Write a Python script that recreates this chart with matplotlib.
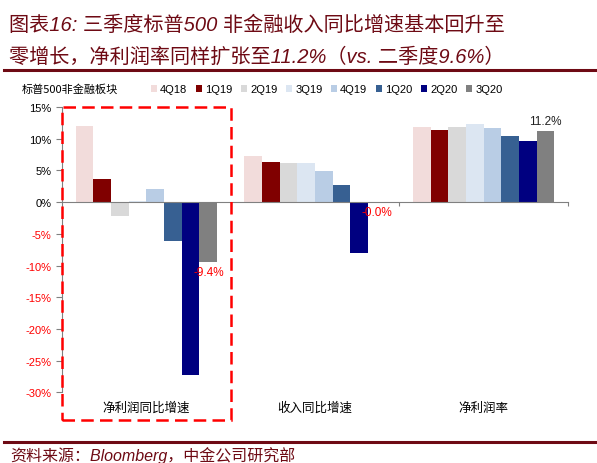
import matplotlib.pyplot as plt
from matplotlib.patches import Rectangle
from matplotlib.transforms import ScaledTranslation
import numpy as np

plt.rcParams['font.family'] = ['Liberation Sans', 'Noto Sans CJK SC', 'DejaVu Sans']

categories = ['净利润同比增速', '收入同比增速', '净利润率']
quarters = ['4Q18', '1Q19', '2Q19', '3Q19', '4Q19', '1Q20', '2Q20', '3Q20']
# values per quarter: [net profit growth, revenue growth, net margin]
q4_18 = [12.0, 7.3, 11.9]
q1_19 = [3.6, 6.4, 11.4]
q2_19 = [-2.2, 6.2, 11.9]
q3_19 = [0.2, 6.1, 12.3]
q4_19 = [2.0, 4.9, 11.7]
q1_20 = [-6.1, 2.7, 10.5]
q2_20 = [-27.2, -8.0, 9.7]
q3_20 = [-9.4, -0.02, 11.2]
series = [q4_18, q1_19, q2_19, q3_19, q4_19, q1_20, q2_20, q3_20]
colors = ['#F2DCDB', '#800000', '#D9D9D9', '#DCE6F2', '#B9CDE5', '#376092', '#000080', '#808080']

dark_red = '#6E0A14'

fig = plt.figure(figsize=(5.97, 4.64), dpi=100)
ax = fig.add_axes([0.1039, 0.1524, 0.8475, 0.6148])

x = np.arange(len(categories))
w = 0.105
for i, (vals, c) in enumerate(zip(series, colors)):
    off = (i - 3.5) * w
    ax.bar(x + off, vals, width=w, color=c, label=quarters[i], zorder=2)

# labels on the 3Q20 bars
off_last = 3.5 * w
lab_colors = ['red', 'red', '#222222']
for j, v in enumerate(q3_20):
    if v < 0:
        ax.annotate(f'{v:.1f}%', (x[j] + off_last, v), xytext=(0, -3), textcoords='offset points',
                    ha='center', va='top', fontsize=8.5, color=lab_colors[j])
    else:
        ax.annotate(f'{v:.1f}%', (x[j] + off_last, v), xytext=(0, 3), textcoords='offset points',
                    ha='center', va='bottom', fontsize=8.5, color=lab_colors[j])

ax.set_xlim(-0.5, 2.5)
ax.set_ylim(-30, 15)
ax.set_yticks(np.arange(-30, 16, 5))
ax.set_yticklabels([f'{t}%' for t in range(-30, 16, 5)], fontsize=8)
for t in ax.get_yticklabels():
    if t.get_text().startswith('-'):
        t.set_color('red')
ax.tick_params(axis='y', length=4, width=0.8, color='#808080', pad=3.5)

for s in ['top', 'right']:
    ax.spines[s].set_visible(False)
ax.spines['left'].set_color('#808080')
ax.spines['bottom'].set_position(('data', 0))
ax.spines['bottom'].set_color('#808080')
ax.set_xticks([0.5, 1.5, 2.5])
ax.set_xticklabels([])
ax.tick_params(axis='x', length=3, width=0.8, color='#808080')

# category labels under the plot
shift = ax.transData + ScaledTranslation(0, -6 / 72, fig.dpi_scale_trans)
for j, cat in enumerate(categories):
    ax.text(x[j], -30, cat, transform=shift, ha='center', va='top', fontsize=9,
            family=['Noto Sans CJK SC'])

# red dashed highlight box around first group
rect = Rectangle((0, -0.096), 1 / 3, 1.096, transform=ax.transAxes, fill=False,
                 edgecolor='red', linewidth=1.8, linestyle=(0, (5, 2.5)), clip_on=False, zorder=5)
ax.add_patch(rect)

# legend
ax.legend(loc='center left', bbox_to_anchor=(0.2524, 0.806), bbox_transform=fig.transFigure,
          ncol=8, frameon=False, fontsize=8, handlelength=0.6, handleheight=0.6,
          handletextpad=0.25, columnspacing=0.75, borderpad=0, borderaxespad=0)
fig.text(0.037, 0.806, '标普500非金融板块', fontsize=8, va='center', ha='left',
         family=['Noto Sans CJK SC'])

# title
fig.text(0.015, 0.945, '图表16: 三季度标普500 非金融收入同比增速基本回升至', fontsize=14.5,
         color=dark_red, style='italic', va='center', ha='left')
fig.text(0.015, 0.876, '零增长，净利润率同样扩张至11.2%（vs. 二季度9.6%）', fontsize=14.5,
         color=dark_red, style='italic', va='center', ha='left')
fig.add_artist(plt.Line2D([0.007, 1.0], [0.8476, 0.8476], color=dark_red, linewidth=2.2))

# source
fig.add_artist(plt.Line2D([0.007, 1.0], [0.046, 0.046], color=dark_red, linewidth=2.2))
fig.text(0.017, 0.018, '资料来源：Bloomberg，中金公司研究部', fontsize=11.5, color=dark_red,
         style='italic', va='center', ha='left')

fig.savefig('out.png', dpi=100)
